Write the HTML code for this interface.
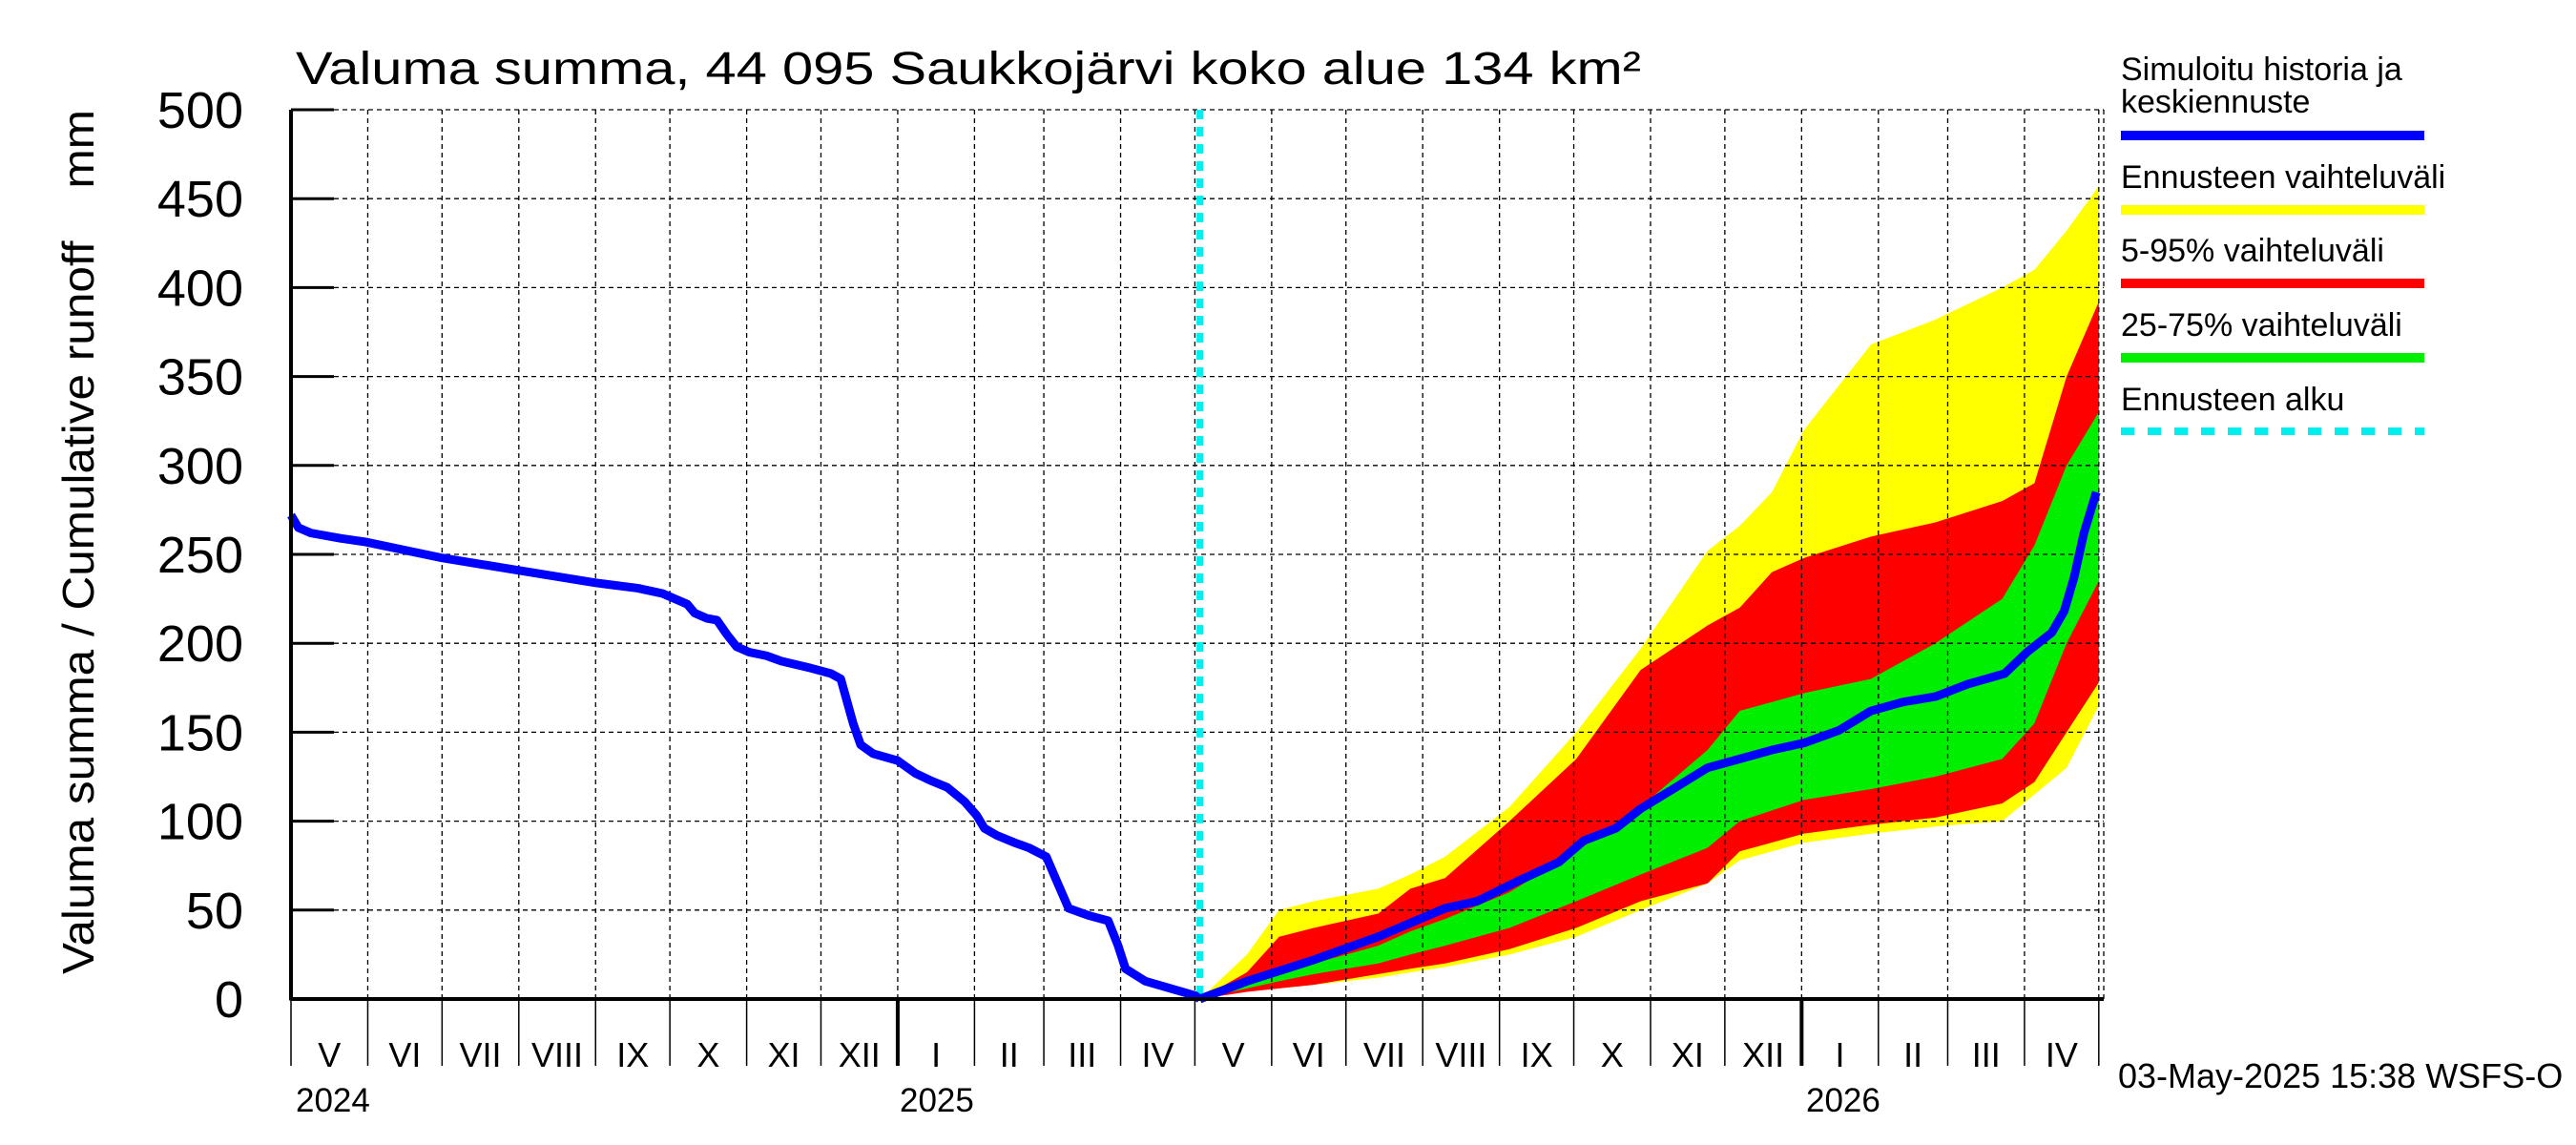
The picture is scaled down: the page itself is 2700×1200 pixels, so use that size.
<!DOCTYPE html>
<html><head><meta charset="utf-8"><style>
body{margin:0;background:#fff;}
svg{display:block;font-family:"Liberation Sans",sans-serif;}
</style></head><body>
<svg id="chart" width="2700" height="1200" viewBox="0 0 2700 1200" xmlns="http://www.w3.org/2000/svg">
<g id="bands"></g>
<g id="grid"></g>
<g id="lines"></g>
<g id="axes"></g>
<text x="310" y="88" font-size="48" textLength="1410" lengthAdjust="spacingAndGlyphs">Valuma summa, 44 095 Saukkojärvi koko alue 134 km²</text>
<text transform="translate(98,1021) rotate(-90)" font-size="46" textLength="906" lengthAdjust="spacingAndGlyphs">Valuma summa / Cumulative runoff&#160;&#160;&#160;&#160;mm</text>
<g font-size="34">
<text x="2223" y="84">Simuloitu historia ja</text>
<text x="2223" y="118">keskiennuste</text>
<rect x="2223" y="137" width="318" height="10" fill="#0000ff"/>
<text x="2223" y="197">Ennusteen vaihteluväli</text>
<rect x="2223" y="215" width="318" height="10" fill="#ffff00"/>
<text x="2223" y="274">5-95% vaihteluväli</text>
<rect x="2223" y="292" width="318" height="10" fill="#ff0000"/>
<text x="2223" y="352">25-75% vaihteluväli</text>
<rect x="2223" y="370" width="318" height="10" fill="#00ee00"/>
<text x="2223" y="430">Ennusteen alku</text>
<line x1="2223" y1="452" x2="2541" y2="452" stroke="#00eeee" stroke-width="8" stroke-dasharray="14,14"/>
</g>
<text x="2220" y="1140" font-size="36">03-May-2025 15:38 WSFS-O</text>
</svg>
<script>
const yTicks=[0,50,100,150,200,250,300,350,400,450,500];
const monthLabels=["V","VI","VII","VIII","IX","X","XI","XII","I","II","III","IV","V","VI","VII","VIII","IX","X","XI","XII","I","II","III","IV"];
const yearLabels=["2024","2025","2026"];
const histDays=[0,3,8,20,30,61,92,123,140,150,160,163,168,172,176,180,185,192,198,210,218,222,224,227,230,235,245,252,258,265,272,277,280,285,292,298,305,309,314,322,330,334,337,345,355,365,367];
const histVals=[272,265,262,259,257,248,241,234,231,228,222,217,214,213,205,198,195,193,190,186,183,180,170,155,143,138,134,127,123,119,111,103,96,92,88,85,80,67,51,47,44,30,17,10,6,2,0];
const medDays=[367,386,413,439,466,479,495,512,522,535,545,558,572,585,598,611,625,638,651,664,677,692,701,711,716,720,724,729];
const medVals=[0,10,22,35,51,55,66,77,89,96,107,118,130,135,140,144,151,162,167,170,177,183,195,206,218,237,262,285];
const bandDays=[367,386,399,413,439,452,466,492,519,545,572,585,598,611,638,664,691,704,717,730];
const yellowHi=[0,25,50,55,62,70,80,108,150,197,252,266,285,320,368,382,400,410,432,457];
const yellowLo=[0,5,6,8,12,15,18,25,35,50,65,78,83,88,93,97,100,115,130,165];
const redHi=[0,15,35,40,48,62,68,100,135,185,210,220,240,248,260,268,280,290,350,392];
const redLo=[0,4,6,8,14,17,20,28,40,55,65,83,88,93,98,102,110,122,150,178];
const greenHi=[0,10,15,20,30,38,45,60,83,108,140,162,167,172,180,200,225,255,300,330];
const greenLo=[0,6,10,14,20,25,30,40,55,70,85,100,106,112,118,125,135,155,200,235];
const forecastStartDay=367;

const L=305,R=2205,T=115,B=1047,DMAX=732;
const X=d=>L+d*(R-L)/DMAX;
const Y=v=>B-v*(B-T)/500;
const NS="http://www.w3.org/2000/svg";
function mk(tag,attrs,parent){const e=document.createElementNS(NS,tag);for(const k in attrs)e.setAttribute(k,attrs[k]);parent.appendChild(e);return e;}
const g=document.getElementById('grid'),ax=document.getElementById('axes'),bands=document.getElementById('bands'),lines=document.getElementById('lines');

function band(hi,lo,color,name){
  let pts=bandDays.map((d,i)=>X(d)+','+Y(hi[i]));
  for(let i=bandDays.length-1;i>=0;i--)pts.push(X(bandDays[i])+','+Y(lo[i]));
  const p=mk('polygon',{points:pts.join(' '),fill:color},bands);
  
  
}
band(yellowHi,yellowLo,'#ffff00','band-full-range');
band(redHi,redLo,'#ff0000','band-5-95');
band(greenHi,greenLo,'#00ee00','band-25-75');

const start=Date.UTC(2024,4,1);
const monthDays=[];
for(let i=0;i<=24;i++){const dt=Date.UTC(2024,4+i,1);monthDays.push(Math.round((dt-start)/86400000));}
monthDays.forEach((d,i)=>{
  const x=X(d);
  if(i>0){const gl=mk('line',{x1:x,y1:T,x2:x,y2:B,stroke:'#000','stroke-width':1.3,'stroke-dasharray':'5,4'},g);
  }
  const isYear=(new Date(start+d*86400000)).getUTCMonth()===0;
  const t=mk('line',{x1:x,y1:B,x2:x,y2:1117,stroke:'#000','stroke-width':isYear?4:1.5},ax);
  
  if(i<24){const lb=mk('text',{x:(X(d)+X(monthDays[i+1]||d+30))/2,y:1118,'font-size':36,'text-anchor':'middle'},ax);
  lb.textContent=monthLabels[i];}
});
mk('line',{x1:R,y1:T,x2:R,y2:B,stroke:'#000','stroke-width':1.3,'stroke-dasharray':'5,4'},g);
[[0,310],[245,943],[610,1893]].forEach((p,i)=>{
  const t=mk('text',{x:p[1],y:1165,'font-size':35},ax);t.textContent=yearLabels[i];
  
});
yTicks.forEach(v=>{
  const y=Y(v);
  if(v>0){const gl=mk('line',{x1:L,y1:y,x2:R,y2:y,stroke:'#000','stroke-width':1.3,'stroke-dasharray':'5,4'},g);
  }
  const tk=mk('line',{x1:L,y1:y,x2:L+45,y2:y,stroke:'#000','stroke-width':3},ax);
  
  const lb=mk('text',{x:255,y:y+19,'font-size':54,'text-anchor':'end'},ax);lb.textContent=v;
  
});
const ya=mk('line',{x1:L,y1:T,x2:L,y2:B+1.5,stroke:'#000','stroke-width':4},ax);

const xa=mk('line',{x1:L,y1:B,x2:R,y2:B,stroke:'#000','stroke-width':4},ax);


const fs=mk('line',{x1:X(forecastStartDay),y1:T,x2:X(forecastStartDay),y2:B,stroke:'#00eeee','stroke-width':7,'stroke-dasharray':'10,8'},lines);

const hp=mk('polyline',{points:histDays.map((d,i)=>X(d)+','+Y(histVals[i])).join(' '),fill:'none',stroke:'#0000ff','stroke-width':9,'stroke-linejoin':'round'},lines);

const mp=mk('polyline',{points:medDays.map((d,i)=>X(d)+','+Y(medVals[i])).join(' '),fill:'none',stroke:'#0000ff','stroke-width':9,'stroke-linejoin':'round'},lines);

</script>
</body></html>
